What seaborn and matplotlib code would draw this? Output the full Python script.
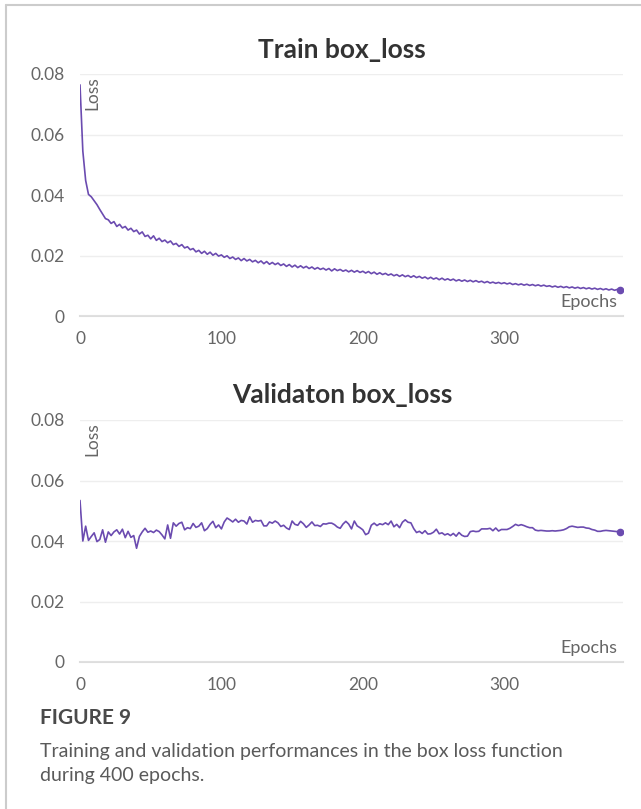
import numpy as np
import pandas as pd
import matplotlib.pyplot as plt
from matplotlib.lines import Line2D
import seaborn as sns

# epochs sampled every 2 (0..382)
epochs = list(range(0, 384, 2))

train_box_loss = [
    0.0764, 0.0545, 0.0448, 0.0402, 0.0394, 0.0381, 0.0368, 0.0352, 0.0337, 0.0322,
    0.0318, 0.0306, 0.0312, 0.0296, 0.0303, 0.0291, 0.0296, 0.0284, 0.0290, 0.0279,
    0.0284, 0.0271, 0.0278, 0.0263, 0.0267, 0.0255, 0.0265, 0.0250, 0.0257, 0.0246,
    0.0251, 0.0242, 0.0248, 0.0236, 0.0240, 0.0230, 0.0236, 0.0225, 0.0229, 0.0219,
    0.0223, 0.0212, 0.0217, 0.0207, 0.0214, 0.0204, 0.0211, 0.0201, 0.0207, 0.0198,
    0.0202, 0.0194, 0.0199, 0.0190, 0.0195, 0.0187, 0.0192, 0.0183, 0.0190, 0.0182,
    0.0187, 0.0179, 0.0184, 0.0176, 0.0182, 0.0173, 0.0180, 0.0171, 0.0177, 0.0170,
    0.0175, 0.0167, 0.0172, 0.0164, 0.0170, 0.0162, 0.0168, 0.0160, 0.0166, 0.0159,
    0.0164, 0.0157, 0.0162, 0.0155, 0.0160, 0.0154, 0.0158, 0.0152, 0.0157, 0.0149,
    0.0156, 0.0150, 0.0154, 0.0148, 0.0152, 0.0146, 0.0151, 0.0145, 0.0150, 0.0144,
    0.0148, 0.0142, 0.0147, 0.0140, 0.0145, 0.0138, 0.0143, 0.0137, 0.0141, 0.0135,
    0.0139, 0.0133, 0.0137, 0.0131, 0.0136, 0.0130, 0.0134, 0.0128, 0.0133, 0.0127,
    0.0131, 0.0125, 0.0129, 0.0123, 0.0128, 0.0122, 0.0126, 0.0120, 0.0125, 0.0119,
    0.0123, 0.0118, 0.0122, 0.0116, 0.0120, 0.0115, 0.0119, 0.0114, 0.0118, 0.0113,
    0.0117, 0.0112, 0.0115, 0.0110, 0.0114, 0.0109, 0.0112, 0.0108, 0.0111, 0.0107,
    0.0110, 0.0106, 0.0109, 0.0104, 0.0107, 0.0103, 0.0106, 0.0102, 0.0105, 0.0101,
    0.0104, 0.0100, 0.0103, 0.0099, 0.0102, 0.0098, 0.0100, 0.0096, 0.0099, 0.0095,
    0.0098, 0.0094, 0.0097, 0.0093, 0.0096, 0.0092, 0.0095, 0.0091, 0.0094, 0.0090,
    0.0093, 0.0089, 0.0092, 0.0088, 0.0091, 0.0087, 0.0090, 0.0086, 0.0089, 0.0085,
    0.0088, 0.0086,
]

val_box_loss = [
    0.0534, 0.0400, 0.0449, 0.0402, 0.0415, 0.0427, 0.0398, 0.0405, 0.0437, 0.0396,
    0.0430, 0.0418, 0.0430, 0.0437, 0.0423, 0.0439, 0.0411, 0.0432, 0.0412, 0.0418,
    0.0376, 0.0415, 0.0430, 0.0442, 0.0429, 0.0433, 0.0428, 0.0436, 0.0431, 0.0420,
    0.0407, 0.0453, 0.0409, 0.0460, 0.0449, 0.0458, 0.0462, 0.0437, 0.0444, 0.0441,
    0.0458, 0.0445, 0.0449, 0.0460, 0.0434, 0.0441, 0.0455, 0.0465, 0.0444, 0.0453,
    0.0440, 0.0463, 0.0476, 0.0470, 0.0463, 0.0472, 0.0462, 0.0468, 0.0466, 0.0456,
    0.0480, 0.0462, 0.0468, 0.0466, 0.0468, 0.0450, 0.0450, 0.0463, 0.0459, 0.0466,
    0.0460, 0.0448, 0.0452, 0.0443, 0.0438, 0.0466, 0.0455, 0.0452, 0.0465, 0.0457,
    0.0445, 0.0453, 0.0463, 0.0451, 0.0452, 0.0448, 0.0457, 0.0456, 0.0459, 0.0459,
    0.0454, 0.0446, 0.0442, 0.0456, 0.0465, 0.0456, 0.0440, 0.0466, 0.0450, 0.0444,
    0.0437, 0.0421, 0.0426, 0.0452, 0.0459, 0.0451, 0.0457, 0.0454, 0.0460, 0.0454,
    0.0466, 0.0447, 0.0455, 0.0444, 0.0462, 0.0470, 0.0462, 0.0460, 0.0441, 0.0428,
    0.0432, 0.0425, 0.0434, 0.0423, 0.0424, 0.0429, 0.0439, 0.0424, 0.0427, 0.0420,
    0.0424, 0.0418, 0.0425, 0.0416, 0.0428, 0.0419, 0.0415, 0.0416, 0.0431, 0.0433,
    0.0431, 0.0432, 0.0440, 0.0440, 0.0440, 0.0442, 0.0434, 0.0443, 0.0433, 0.0438,
    0.0438, 0.0438, 0.0442, 0.0448, 0.0455, 0.0451, 0.0454, 0.0451, 0.0447, 0.0444,
    0.0444, 0.0436, 0.0434, 0.0435, 0.0434, 0.0433, 0.0433, 0.0434, 0.0433, 0.0434,
    0.0435, 0.0437, 0.0441, 0.0447, 0.0449, 0.0447, 0.0445, 0.0446, 0.0446, 0.0443,
    0.0442, 0.0438, 0.0436, 0.0432, 0.0432, 0.0434, 0.0435, 0.0434, 0.0433, 0.0432,
    0.0431, 0.0431,
]

panel_titles = ["Train box_loss", "Validaton box_loss"]
y_ticks = [0, 0.02, 0.04, 0.06, 0.08]
y_ticklabels = ["0", "0.02", "0.04", "0.06", "0.08"]
x_ticks = [0, 100, 200, 300]

caption_head = "FIGURE 9"
caption_lines = ["Training and validation performances in the box loss function",
                 "during 400 epochs."]

line_color = "#6b4bb0"
text_gray = "#666666"

sns.set_theme(style="white")
plt.rcParams["font.family"] = ["Lato", "DejaVu Sans"]

fig = plt.figure(figsize=(6.41, 8.09), dpi=100)
W, H = 641, 809

def px_axes(left, top, right, bottom):
    return fig.add_axes([left / W, 1 - bottom / H, (right - left) / W, (bottom - top) / H])

ax1 = px_axes(80, 74, 623, 316)
ax2 = px_axes(80, 420, 623, 662)

for ax, vals, title, ty in [(ax1, train_box_loss, panel_titles[0], 50),
                            (ax2, val_box_loss, panel_titles[1], 395)]:
    df = pd.DataFrame({"epoch": epochs, "loss": vals})
    sns.lineplot(data=df, x="epoch", y="loss", ax=ax, color=line_color, linewidth=1.2)
    ax.plot(df["epoch"].iloc[-1], df["loss"].iloc[-1], "o", color=line_color, markersize=4.5)

    ax.set_xlim(0, 384)
    ax.set_ylim(0, 0.08)
    ax.set_yticks(y_ticks)
    ax.set_yticklabels(y_ticklabels)
    ax.set_xticks(x_ticks)
    ax.set_xlabel("")
    ax.set_ylabel("")

    for s in ["top", "right", "left"]:
        ax.spines[s].set_visible(False)
    ax.spines["bottom"].set_color("#dddddd")
    ax.spines["bottom"].set_linewidth(1.5)
    ax.spines["bottom"].set_zorder(0)

    ax.grid(axis="y", color="#eeeeee", linewidth=1.0)
    ax.grid(axis="x", visible=False)
    ax.set_axisbelow(True)

    ax.tick_params(axis="y", length=0, pad=11, labelsize=12.5, labelcolor=text_gray)
    ax.tick_params(axis="x", direction="in", length=7, width=1, color="#dddddd",
                   pad=11, labelsize=12.5, labelcolor=text_gray)

    ax.text(0.008, 0.99, "Loss", transform=ax.transAxes, rotation=90,
            ha="left", va="top", fontsize=12.5, color=text_gray)
    ax.text(0.99, 0.025, "Epochs", transform=ax.transAxes,
            ha="right", va="bottom", fontsize=13, color=text_gray)

    fig.text(342 / W, 1 - ty / H, title, ha="center", va="center",
             fontsize=19, fontweight="bold", color="#333333")

# caption
fig.text(40 / W, 1 - 718 / H, caption_head, ha="left", va="center",
         fontsize=15, fontweight="bold", color="#4a4a4a")
for i, line in enumerate(caption_lines):
    fig.text(40 / W, 1 - (751 + 24 * i) / H, line, ha="left", va="center",
             fontsize=14, color="#5a5a5a")

# page frame lines
fig.add_artist(Line2D([6 / W, 6 / W], [0, 1 - 5 / H], color="#cccccc", linewidth=1.5))
fig.add_artist(Line2D([6 / W, 1], [1 - 5 / H, 1 - 5 / H], color="#cccccc", linewidth=1.5))

fig.savefig("out.png", dpi=100, facecolor="white")
